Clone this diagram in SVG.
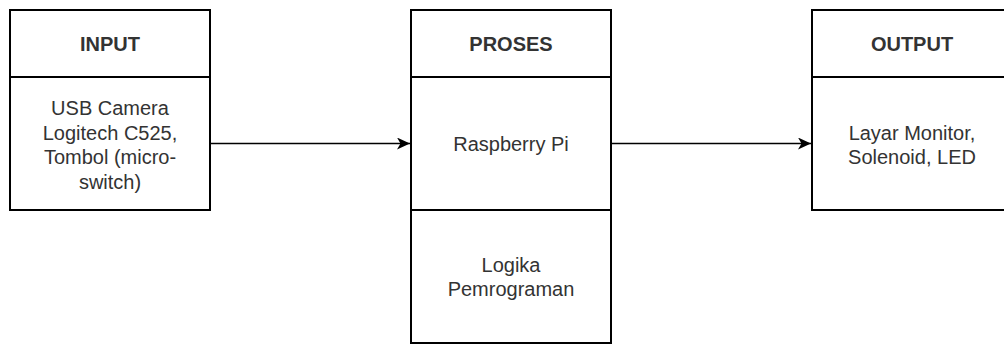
<svg xmlns="http://www.w3.org/2000/svg" width="1004" height="345" viewBox="0 0 1004 345">
  <style>
    .box { fill: #ffffff; stroke: #000000; stroke-width: 2; }
    .sep { stroke: #000000; stroke-width: 2; fill: none; }
    .head { font-family: "Liberation Sans", Arial, Helvetica, sans-serif; font-size: 20px; font-weight: bold; fill: #333333; text-anchor: middle; }
    .body { font-family: "Liberation Sans", Arial, Helvetica, sans-serif; font-size: 20px; fill: #333333; text-anchor: middle; }
    .link { stroke: #000000; stroke-width: 1.7; fill: none; }
  </style>
  <defs>
    <marker id="arrow" viewBox="0 0 13 12" refX="13" refY="6" markerWidth="13" markerHeight="12" markerUnits="userSpaceOnUse" orient="auto">
      <path d="M0,0 L13,6 L0,12 L3.5,6 Z" fill="#000000"/>
    </marker>
  </defs>

  <rect width="1004" height="345" fill="#ffffff"/>

  <!-- INPUT column -->
  <g id="input">
    <rect class="box" x="10" y="10" width="200" height="200"/>
    <line class="sep" x1="10" y1="77" x2="210" y2="77"/>
    <text class="head" x="110" y="50.5">INPUT</text>
    <text class="body" x="110" y="115">USB Camera</text>
    <text class="body" x="110" y="139.5">Logitech C525,</text>
    <text class="body" x="110" y="164">Tombol (micro-</text>
    <text class="body" x="110" y="188.5">switch)</text>
  </g>

  <!-- PROSES column -->
  <g id="proses">
    <rect class="box" x="411" y="10" width="200" height="333"/>
    <line class="sep" x1="411" y1="77" x2="611" y2="77"/>
    <line class="sep" x1="411" y1="210" x2="611" y2="210"/>
    <text class="head" x="511" y="50.5">PROSES</text>
    <text class="body" x="511" y="151">Raspberry Pi</text>
    <text class="body" x="511" y="271.5">Logika</text>
    <text class="body" x="511" y="296">Pemrograman</text>
  </g>

  <!-- OUTPUT column -->
  <g id="output">
    <rect class="box" x="812" y="10" width="200" height="200"/>
    <line class="sep" x1="812" y1="77" x2="1012" y2="77"/>
    <text class="head" x="912" y="50.5">OUTPUT</text>
    <text class="body" x="912" y="139.5">Layar Monitor,</text>
    <text class="body" x="912" y="164">Solenoid, LED</text>
  </g>

  <!-- connectors -->
  <g id="connectors">
    <line class="link" x1="211" y1="143.5" x2="410" y2="143.5" marker-end="url(#arrow)"/>
    <line class="link" x1="612" y1="143.5" x2="811" y2="143.5" marker-end="url(#arrow)"/>
  </g>
</svg>
